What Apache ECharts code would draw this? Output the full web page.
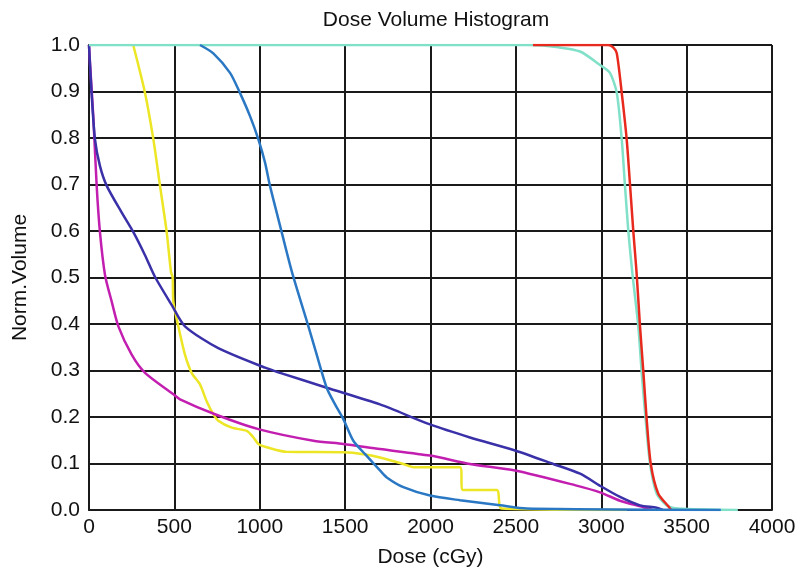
<!DOCTYPE html>
<html>
<head>
<meta charset="utf-8">
<script src="https://cdn.jsdelivr.net/npm/echarts@6/dist/echarts.min.js"></script>
<style>html,body{margin:0;padding:0;background:#fff;}#chart{width:805px;height:573px;}</style>
</head>
<body>
<div id="chart"></div>
<script>
const chartTitle = 'Dose Volume Histogram';
const xAxisName = 'Dose (cGy)';
const yAxisName = 'Norm.Volume';

const cyanCurve = [[0,1],[2580,1],[2750,0.995],[2876,0.986],[2993,0.957],[3051,0.94],[3091,0.897],[3120,0.797],[3139,0.697],[3159,0.598],[3182,0.51],[3217,0.395],[3237,0.295],[3260,0.195],[3286,0.099],[3325,0.035],[3383,0.01],[3450,0.003],[3800,0]];
const redCurve = [[2600,1],[3040,1],[3070,0.995],[3091,0.982],[3120,0.897],[3149,0.797],[3169,0.697],[3188,0.598],[3206,0.515],[3227,0.395],[3247,0.295],[3266,0.195],[3290,0.099],[3334,0.035],[3393,0.008],[3410,0]];
const blueCurve = [[650,1],[728,0.982],[826,0.94],[884,0.897],[943,0.847],[992,0.797],[1031,0.747],[1060,0.697],[1099,0.64],[1128,0.598],[1190,0.51],[1285,0.395],[1328,0.341],[1392,0.263],[1441,0.227],[1490,0.195],[1548,0.149],[1617,0.12],[1704,0.085],[1744,0.07],[1841,0.049],[1997,0.031],[2173,0.021],[2407,0.01],[2563,0.003],[3700,0]];
const indigoCurve = [[0,1],[15,0.897],[35,0.797],[64,0.74],[104,0.697],[191,0.64],[259,0.598],[328,0.548],[387,0.501],[484,0.441],[562,0.395],[757,0.348],[1031,0.306],[1119,0.295],[1392,0.263],[1704,0.227],[1997,0.184],[2231,0.156],[2495,0.128],[2719,0.099],[2876,0.078],[2993,0.052],[3110,0.028],[3227,0.01],[3325,0.005],[3360,0]];
const magentaCurve = [[0,1],[6,0.96],[25,0.847],[45,0.697],[64,0.598],[94,0.505],[133,0.448],[172,0.395],[250,0.334],[328,0.295],[494,0.249],[533,0.238],[738,0.206],[992,0.174],[1314,0.149],[1490,0.142],[1704,0.131],[1997,0.117],[2231,0.099],[2495,0.085],[2850,0.053],[2993,0.038],[3110,0.02],[3247,0.006],[3300,0]];
const yellowCurve = [[259,1],[328,0.897],[377,0.797],[416,0.697],[455,0.598],[480,0.512],[490,0.5],[494,0.448],[523,0.395],[562,0.334],[601,0.295],[650,0.27],[689,0.234],[728,0.206],[757,0.192],[836,0.177],[924,0.17],[963,0.156],[992,0.142],[1041,0.135],[1158,0.125],[1490,0.124],[1607,0.12],[1704,0.113],[1841,0.099],[1900,0.092],[2173,0.092],[2190,0.043],[2388,0.043],[2417,0.003],[3150,0]];

const font = 'Liberation Sans, Arial, sans-serif';
function line(name, data, color) {
  return { name, type: 'line', data, showSymbol: false, symbol: 'none', animation: false,
    smooth: 0.25,
    lineStyle: { color, width: 2.5 }, itemStyle: { color } };
}
const chart = echarts.init(document.getElementById('chart'));
chart.setOption({
  backgroundColor: '#fff',
  animation: false,
  title: { text: chartTitle, left: 431, top: 5, textAlign: 'center',
    textStyle: { fontFamily: font, fontSize: 21, fontWeight: 'normal', color: '#111' } },
  grid: { left: 89, right: 33, top: 45, bottom: 60 },
  xAxis: {
    type: 'value', min: 0, max: 4000, interval: 500,
    name: xAxisName, nameLocation: 'middle', nameGap: 37,
    nameTextStyle: { fontFamily: font, fontSize: 21, color: '#111' },
    axisLine: { show: true, lineStyle: { color: '#1a1a1a', width: 2 } },
    axisTick: { show: false },
    axisLabel: { fontFamily: font, fontSize: 21, color: '#111', margin: 7,
      formatter: v => String(v) },
    splitLine: { show: true, lineStyle: { color: '#1a1a1a', width: 2 } }
  },
  yAxis: {
    type: 'value', min: 0, max: 1, interval: 0.1,
    name: yAxisName, nameLocation: 'middle', nameGap: 58,
    nameTextStyle: { fontFamily: font, fontSize: 21, color: '#111' },
    axisLine: { show: true, lineStyle: { color: '#1a1a1a', width: 2 } },
    axisTick: { show: false },
    axisLabel: { fontFamily: font, fontSize: 21, color: '#111', margin: 9,
      formatter: v => v.toFixed(1) },
    splitLine: { show: true, lineStyle: { color: '#1a1a1a', width: 2 } }
  },
  series: [
    line('Yellow', yellowCurve, '#ece624'),
    line('Magenta', magentaCurve, '#c21eb0'),
    line('Indigo', indigoCurve, '#3a30a8'),
    line('Cyan', cyanCurve, '#80e0c8'),
    line('Red', redCurve, '#e82a1e'),
    line('Blue', blueCurve, '#2a78c4')
  ]
});
</script>
</body>
</html>
